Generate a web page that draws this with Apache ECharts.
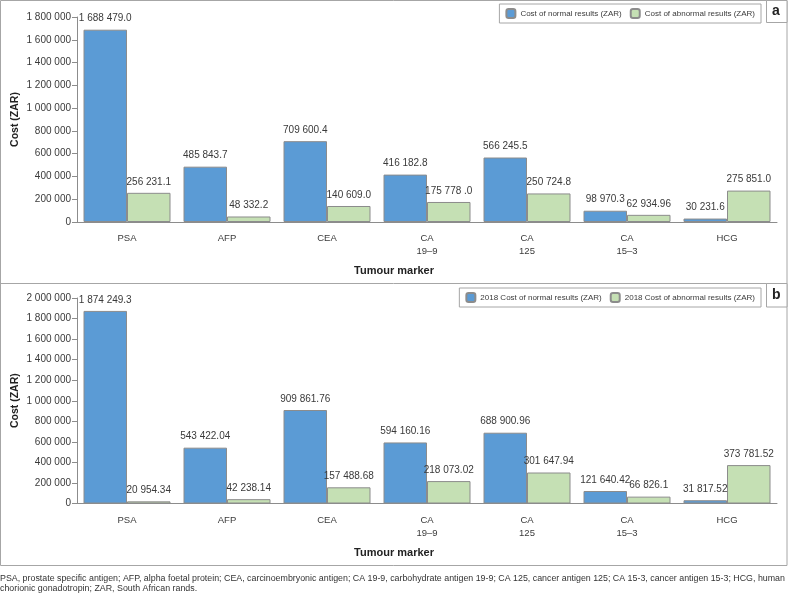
<!DOCTYPE html>
<html>
<head>
<meta charset="utf-8">
<script src="https://cdn.jsdelivr.net/npm/echarts@6/dist/echarts.min.js"></script>
<style>
html,body{margin:0;padding:0;background:#fff;}
#chart{width:788px;height:595px;}
</style>
</head>
<body>
<div id="chart"></div>
<script>
var categories = ['PSA', 'AFP', 'CEA', 'CA\n19\u20139', 'CA\n125', 'CA\n15\u20133', 'HCG'];

var normalA = [1688479.0, 485843.7, 709600.4, 416182.8, 566245.5, 98970.3, 30231.6];
var abnormalA = [256231.1, 48332.2, 140609.0, 175778.0, 250724.8, 62934.96, 275851.0];
var normalALabels = ['1 688 479.0', '485 843.7', '709 600.4', '416 182.8', '566 245.5', '98 970.3', '30 231.6'];
var abnormalALabels = ['256 231.1', '48 332.2', '140 609.0', '175 778 .0', '250 724.8', '62 934.96', '275 851.0'];

var normalB = [1874249.3, 543422.04, 909861.76, 594160.16, 688900.96, 121640.42, 31817.52];
var abnormalB = [20954.34, 42238.14, 157488.68, 218073.02, 301647.94, 66826.1, 373781.52];
var normalBLabels = ['1 874 249.3', '543 422.04', '909 861.76', '594 160.16', '688 900.96', '121 640.42', '31 817.52'];
var abnormalBLabels = ['20 954.34', '42 238.14', '157 488.68', '218 073.02', '301 647.94', '66 826.1', '373 781.52'];

var FONT = "'Liberation Sans', Arial, sans-serif";
var BLUE = '#5B9BD5', GREEN = '#C5E0B4', AXIS = '#8c8c8c', TXT = '#3a3a3a', FRAME = '#a6a6a6';

function fmt(v){ return String(v).replace(/\B(?=(\d{3})+(?!\d))/g, ' '); }

function xAxis(gi){
  return {
    type: 'category', gridIndex: gi, data: categories,
    axisLine: {lineStyle: {color: AXIS}},
    axisTick: {length: 5, lineStyle: {color: AXIS}},
    axisLabel: {fontFamily: FONT, fontSize: 9.5, color: TXT, margin: 10, lineHeight: 13}
  };
}
function yAxis(gi, max){
  return {
    type: 'value', gridIndex: gi, min: 0, max: max, interval: 200000,
    axisLine: {show: true, lineStyle: {color: AXIS}},
    axisTick: {show: true, length: 5, lineStyle: {color: AXIS}},
    splitLine: {show: false},
    axisLabel: {fontFamily: FONT, fontSize: 10, color: TXT, margin: 6, formatter: fmt}
  };
}
function series(name, data, labels, color, gi){
  return {
    name: name, type: 'bar', xAxisIndex: gi, yAxisIndex: gi, data: data,
    barGap: '0%', barCategoryGap: '13%',
    itemStyle: {color: color, borderColor: AXIS, borderWidth: 1},
    label: {show: true, position: 'top', distance: 6, fontFamily: FONT, fontSize: 10, color: TXT,
      formatter: function(p){ return labels[p.dataIndex]; }},
    emphasis: {disabled: true}, animation: false
  };
}
function legend(names, right, top){
  return {
    data: names, right: right, top: top, orient: 'horizontal',
    itemWidth: 9, itemHeight: 9, itemGap: 8, padding: [4, 6, 4, 6],
    borderColor: FRAME, borderWidth: 1,
    textStyle: {fontFamily: FONT, fontSize: 8, color: TXT},
    selectedMode: false
  };
}
function yName(cy){
  return {type: 'text', x: 15, y: cy, rotation: Math.PI / 2, silent: true,
    style: {text: 'Cost (ZAR)', font: "bold 10.5px " + FONT, fill: '#222', align: 'center', verticalAlign: 'middle'}};
}

var chart = echarts.init(document.getElementById('chart'), null, {renderer: 'canvas'});
chart.setOption({
  animation: false,
  grid: [
    {left: 77, width: 700, top: 17, height: 205, outerBoundsMode: 'none', containLabel: false},
    {left: 77, width: 700, top: 298, height: 205.5, outerBoundsMode: 'none', containLabel: false}
  ],
  xAxis: [xAxis(0), xAxis(1)],
  yAxis: [yAxis(0, 1800000), yAxis(1, 2000000)],
  legend: [
    legend(['Cost of normal results (ZAR)', 'Cost of abnormal results (ZAR)'], 27, 4),
    legend(['2018 Cost of normal results (ZAR)', '2018 Cost of abnormal results (ZAR)'], 27, 288)
  ],
  title: [
    {text: 'Tumour marker', left: 'center', top: 265, textStyle: {fontFamily: FONT, fontSize: 11, fontWeight: 'bold', color: '#222'}, padding: 0},
    {text: 'Tumour marker', left: 'center', top: 547, textStyle: {fontFamily: FONT, fontSize: 11, fontWeight: 'bold', color: '#222'}, padding: 0}
  ],
  series: [
    series('Cost of normal results (ZAR)', normalA, normalALabels, BLUE, 0),
    series('Cost of abnormal results (ZAR)', abnormalA, abnormalALabels, GREEN, 0),
    series('2018 Cost of normal results (ZAR)', normalB, normalBLabels, BLUE, 1),
    series('2018 Cost of abnormal results (ZAR)', abnormalB, abnormalBLabels, GREEN, 1)
  ],
  graphic: [
    {type: 'rect', shape: {x: 0.5, y: 0.5, width: 786.5, height: 565}, style: {fill: 'none', stroke: FRAME, lineWidth: 1}, silent: true},
    {type: 'line', shape: {x1: 0, y1: 283.5, x2: 787, y2: 283.5}, style: {stroke: FRAME, lineWidth: 1}, silent: true},
    {type: 'rect', shape: {x: 766.5, y: 0.5, width: 20.5, height: 22}, style: {fill: '#fff', stroke: FRAME, lineWidth: 1}, silent: true},
    {type: 'rect', shape: {x: 766.5, y: 283.5, width: 20.5, height: 23.5}, style: {fill: '#fff', stroke: FRAME, lineWidth: 1}, silent: true},
    {type: 'text', left: 772, top: 4, style: {text: 'a', font: "bold 14px " + FONT, fill: '#222'}, silent: true},
    {type: 'text', left: 772, top: 288, style: {text: 'b', font: "bold 14px " + FONT, fill: '#222'}, silent: true},
    yName(119.5),
    yName(400.7),
    {type: 'text', left: 0, top: 574, style: {
      text: 'PSA, prostate specific antigen; AFP, alpha foetal protein; CEA, carcinoembryonic antigen; CA 19-9, carbohydrate antigen 19-9; CA 125, cancer antigen 125; CA 15-3, cancer antigen 15-3; HCG, human\nchorionic gonadotropin; ZAR, South African rands.',
      font: "8.85px " + FONT, fill: '#333', lineHeight: 10}, silent: true}
  ]
});
</script>
</body>
</html>
